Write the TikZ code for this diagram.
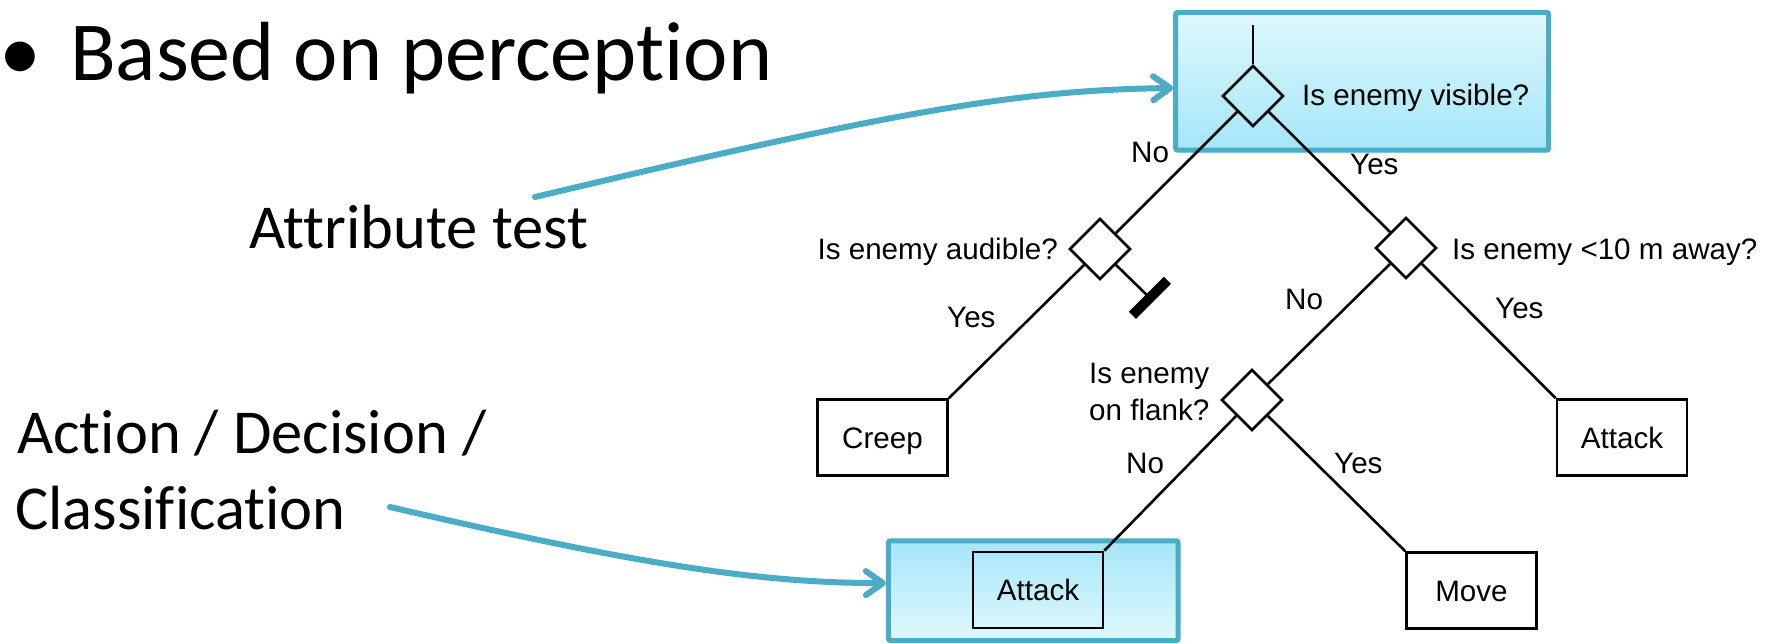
\documentclass[tikz,border=0pt]{standalone}
\usepackage{fontspec}
\setmainfont{Liberation Sans}
\newfontfamily\slidefont[Ligatures={CommonOff,ContextualOff}]{Carlito}
\usetikzlibrary{arrows.meta,shapes.geometric,shadows,calc}

\definecolor{aqua}{HTML}{4BACC6}
\definecolor{paleaqua}{HTML}{E0F8FE}
\definecolor{midaqua}{HTML}{A5E6F8}

\tikzset{
  treeline/.style={line width=2.6pt, black},
  test/.style={diamond, draw, line width=2.6pt, minimum size=61pt, inner sep=0pt, aspect=1},
  leaf/.style={rectangle, draw, line width=2.6pt, minimum width=130pt, minimum height=76pt,
    inner sep=0pt, font=\fontsize{29.6}{36}\selectfont, text height=21pt, text depth=0pt},
  lbl/.style={inner sep=0pt, font=\fontsize{29.6}{36}\selectfont},
  slide/.style={inner sep=0pt, font=\slidefont\fontsize{62.5}{76}\selectfont},
  bigslide/.style={inner sep=0pt, font=\slidefont\fontsize{84}{100}\selectfont},
  callout/.style={rectangle, draw=aqua, line width=5pt, rounded corners=2pt, inner sep=0pt,
    drop shadow={opacity=0.15, shadow xshift=1.5pt, shadow yshift=-2.5pt}},
  pointer/.style={draw=aqua, line width=6pt, line cap=round,
    -{Straight Barb[length=17pt, width=24pt, line width=6pt, round]}},
}

\begin{document}
\begin{tikzpicture}[x=1pt, y=-1pt]
  \useasboundingbox (0,0) rectangle (1775,643);
  \fill[white] (0,0) rectangle (1775,643);

  % highlighted regions
  \node[callout, top color=paleaqua, bottom color=midaqua,
        minimum width=372.8pt, minimum height=137.7pt] (tbox) at (1362.1,81.3) {};
  \node[callout, top color=midaqua, bottom color=paleaqua,
        minimum width=289.7pt, minimum height=99.7pt] (bbox) at (1033.2,590.7) {};

  % slide text
  \node[bigslide, anchor=base west] (bullet) at (-1,80) {•};
  \node[bigslide, anchor=base west] (title) at (70,80) {Based on perception};
  \node[slide, anchor=base west] (attr) at (249,248) {Attribute test};
  \node[slide, anchor=base west] (act1) at (17,453) {Action / Decision /};
  \node[slide, anchor=base west] (act2) at (15,529) {Classification};

  % pointers
  \coordinate (p1) at (535,197);
  \coordinate (p2) at (390,507);
  \draw[pointer] (p1) .. controls (900,110) and (1020,90) .. ([yshift=-6.7pt]tbox.west);
  \draw[pointer] (p2) .. controls (640,565) and (760,583) .. ([yshift=7.6pt]bbox.west);

  % decision tree
  \coordinate (root) at (1253,25);
  \node[test] (d1) at (1253,96) {};
  \node[test] (d2) at (1100,249) {};
  \node[test] (d3) at (1406,248) {};
  \node[test] (d4) at (1252,400) {};
  \node[leaf] (creep) at (882.5,437.5) {Creep};
  \node[leaf] (atk1) at (1622,437.5) {Attack};
  \node[leaf] (atk2) at (1038,590) {Attack};
  \node[leaf] (move) at (1471.5,590.5) {Move};

  \draw[treeline] (root) -- (d1.north);
  \draw[treeline] (d1.south west) -- (d2.north east);
  \draw[treeline] (d1.south east) -- (d3.north west);
  \draw[treeline] (d2.south west) -- (creep.north east);
  \draw[treeline] (d3.south west) -- (d4.north east);
  \draw[treeline] (d3.south east) -- (atk1.north west);
  \draw[treeline] (d4.south west) -- (atk2.north east);
  \draw[treeline] (d4.south east) -- (move.north west);

  % dead end
  \draw[treeline] (d2.south east) -- ++(34,33) coordinate (stub);
  \draw[line width=10pt] ($(stub)+(-17.5,17.5)$) -- ($(stub)+(17.5,-17.5)$);

  % questions
  \node[lbl, anchor=base west] (q1) at (1302,105) {Is enemy visible?};
  \node[lbl, anchor=base east] (q2) at (1058,259) {Is enemy audible?};
  \node[lbl, anchor=base west] (q3) at (1452,259) {Is enemy <10 m away?};
  \node[lbl, anchor=base west] (q4a) at (1089,383) {Is enemy};
  \node[lbl, anchor=base west] (q4b) at (1089,420) {on flank?};

  % branch labels
  \node[lbl, anchor=base west] (n1) at (1131,162) {No};
  \node[lbl, anchor=base west] (y1) at (1350,174) {Yes};
  \node[lbl, anchor=base west] (y2) at (947,327) {Yes};
  \node[lbl, anchor=base west] (n3) at (1285,309) {No};
  \node[lbl, anchor=base west] (y3) at (1495,318) {Yes};
  \node[lbl, anchor=base west] (n4) at (1126,473) {No};
  \node[lbl, anchor=base west] (y4) at (1334,473) {Yes};
\end{tikzpicture}
\end{document}
